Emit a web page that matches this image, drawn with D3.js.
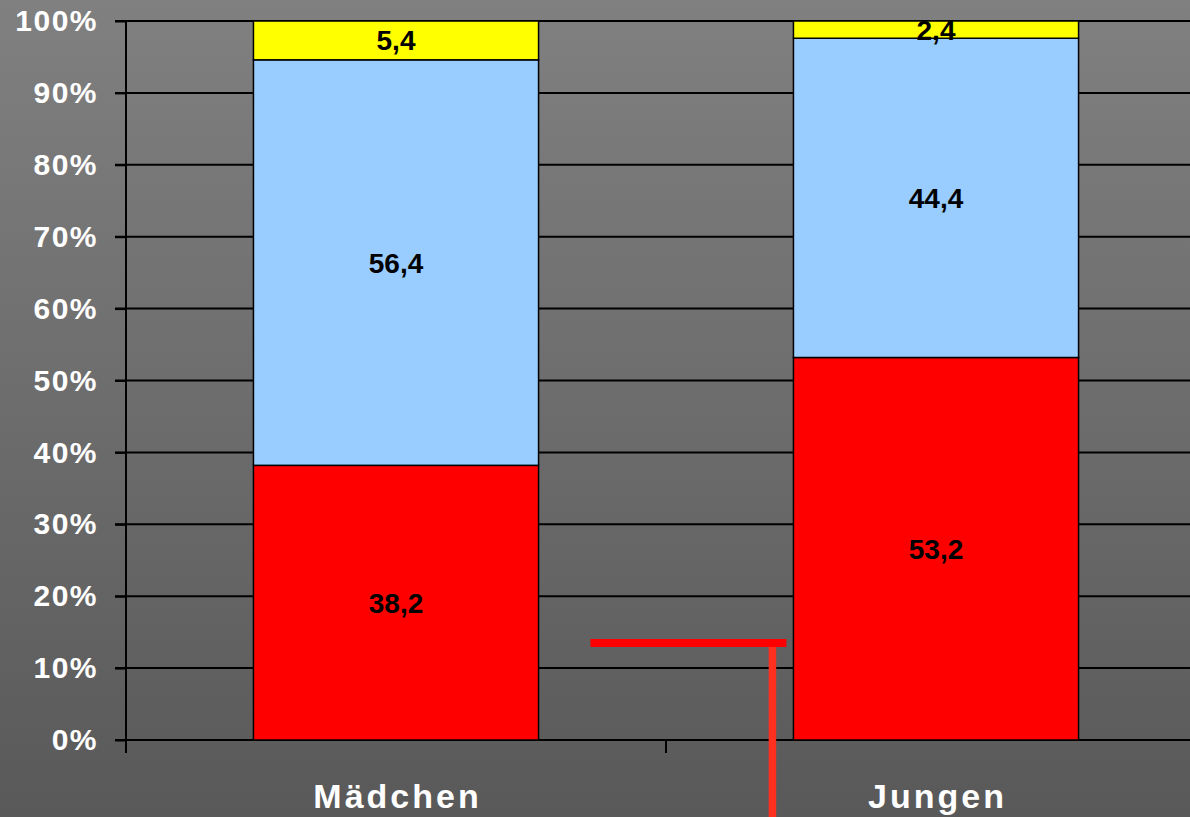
<!DOCTYPE html>
<html>
<head>
<meta charset="utf-8">
<script src="https://cdn.jsdelivr.net/npm/d3@7"></script>
<style>
  body { margin: 0; overflow: hidden; }
  svg { display: block; font-family: "Liberation Sans", Arial, sans-serif; }
</style>
</head>
<body>
<script>
// data
var categories = ["Mädchen", "Jungen"];
var rot = [38.2, 53.2];
var blau = [56.4, 44.4];
var gelb = [5.4, 2.4];
var yTicks = [0, 10, 20, 30, 40, 50, 60, 70, 80, 90, 100];
var seriesKeys = ["rot", "blau", "gelb"];
var seriesColors = { rot: "#ff0000", blau: "#99ccff", gelb: "#ffff00" };
// annotation (red marker), in data units
var markerValue = 13.5;

var W = 1190, H = 817;
var plotLeft = 126, plotRight = 1206, plotTop = 21, plotBottom = 740;

var svg = d3.select("body").append("svg")
    .attr("width", W)
    .attr("height", H);

// background gradient
var grad = svg.append("defs").append("linearGradient")
    .attr("id", "bg").attr("x1", 0).attr("y1", 0).attr("x2", 0).attr("y2", 1);
grad.append("stop").attr("offset", "0%").attr("stop-color", "#808080");
grad.append("stop").attr("offset", "100%").attr("stop-color", "#595959");
svg.append("rect").attr("width", W).attr("height", H).attr("fill", "url(#bg)");

// scales
var x = d3.scaleBand()
    .domain(categories)
    .range([plotLeft, plotRight])
    .paddingInner(0.472)
    .paddingOuter(0.236);
var xBand = d3.scaleBand().domain(categories).range([plotLeft, plotRight]);
var y = d3.scaleLinear().domain([0, 100]).range([plotBottom, plotTop]);

// table for the stack
var table = categories.map(function (c, i) {
    return { cat: c, rot: rot[i], blau: blau[i], gelb: gelb[i] };
});
var stacked = d3.stack().keys(seriesKeys)(table);

// grid lines
svg.append("g").selectAll("line")
    .data(yTicks)
    .enter().append("line")
    .attr("x1", plotLeft - 11).attr("x2", plotRight)
    .attr("y1", function (d) { return y(d); })
    .attr("y2", function (d) { return y(d); })
    .attr("stroke", "#000").attr("stroke-width", 2);

// y axis
var yAxis = svg.append("g")
    .attr("transform", "translate(" + plotLeft + ",0)")
    .call(d3.axisLeft(y).tickValues(yTicks).tickSize(11).tickSizeOuter(0).tickPadding(17)
        .tickFormat(function (d) { return d + "%"; }));
yAxis.select(".domain").remove();
yAxis.selectAll(".tick line").attr("stroke", "#000").attr("stroke-width", 2);
yAxis.selectAll(".tick text")
    .attr("fill", "#fff")
    .attr("font-size", "30px")
    .attr("font-weight", "bold")
    .attr("font-family", "Liberation Sans, Arial, sans-serif")
    .style("letter-spacing", "1.5px");
svg.append("line")
    .attr("x1", plotLeft).attr("x2", plotLeft)
    .attr("y1", y(100)).attr("y2", plotBottom + 12)
    .attr("stroke", "#000").attr("stroke-width", 2);

// category ticks at band boundaries
var bounds = categories.map(function (c) { return xBand(c); }).concat([plotRight]);
svg.append("g").selectAll("line")
    .data(bounds)
    .enter().append("line")
    .attr("x1", function (d) { return d; })
    .attr("x2", function (d) { return d; })
    .attr("y1", plotBottom).attr("y2", plotBottom + 13)
    .attr("stroke", "#000").attr("stroke-width", 2);

// bars
var layers = svg.append("g").selectAll("g")
    .data(stacked)
    .enter().append("g")
    .attr("fill", function (d) { return seriesColors[d.key]; });

layers.selectAll("rect")
    .data(function (d) { return d; })
    .enter().append("rect")
    .attr("x", function (d) { return x(d.data.cat); })
    .attr("width", x.bandwidth())
    .attr("y", function (d) { return y(d[1]); })
    .attr("height", function (d) { return y(d[0]) - y(d[1]); })
    .attr("stroke", "#000")
    .attr("stroke-width", 1.5);

// value labels
layers.selectAll("text")
    .data(function (d) { return d; })
    .enter().append("text")
    .attr("x", function (d) { return x(d.data.cat) + x.bandwidth() / 2; })
    .attr("y", function (d) { return (y(d[0]) + y(d[1])) / 2; })
    .attr("dy", "0.36em")
    .attr("text-anchor", "middle")
    .attr("fill", "#000")
    .attr("font-size", "28px")
    .attr("font-weight", "bold")
    .text(function (d) { return String(+(d[1] - d[0]).toFixed(1)).replace(".", ","); });

// category labels
svg.append("g").selectAll("text")
    .data(categories)
    .enter().append("text")
    .attr("x", function (d) { return x(d) + x.bandwidth() / 2 + 1.5; })
    .attr("y", 808)
    .attr("text-anchor", "middle")
    .attr("fill", "#fff")
    .attr("font-size", "34px")
    .attr("font-weight", "bold")
    .style("letter-spacing", "3px")
    .text(function (d) { return d; });

// red marker
var jx = x("Jungen");
svg.append("line")
    .attr("x1", jx - 203).attr("x2", jx - 7)
    .attr("y1", y(markerValue)).attr("y2", y(markerValue))
    .attr("stroke", "#ff0000").attr("stroke-width", 8);
svg.append("line")
    .attr("x1", jx - 21).attr("x2", jx - 21)
    .attr("y1", y(markerValue) + 4).attr("y2", H)
    .attr("stroke", "#ff3020").attr("stroke-width", 7.5);
</script>
</body>
</html>
